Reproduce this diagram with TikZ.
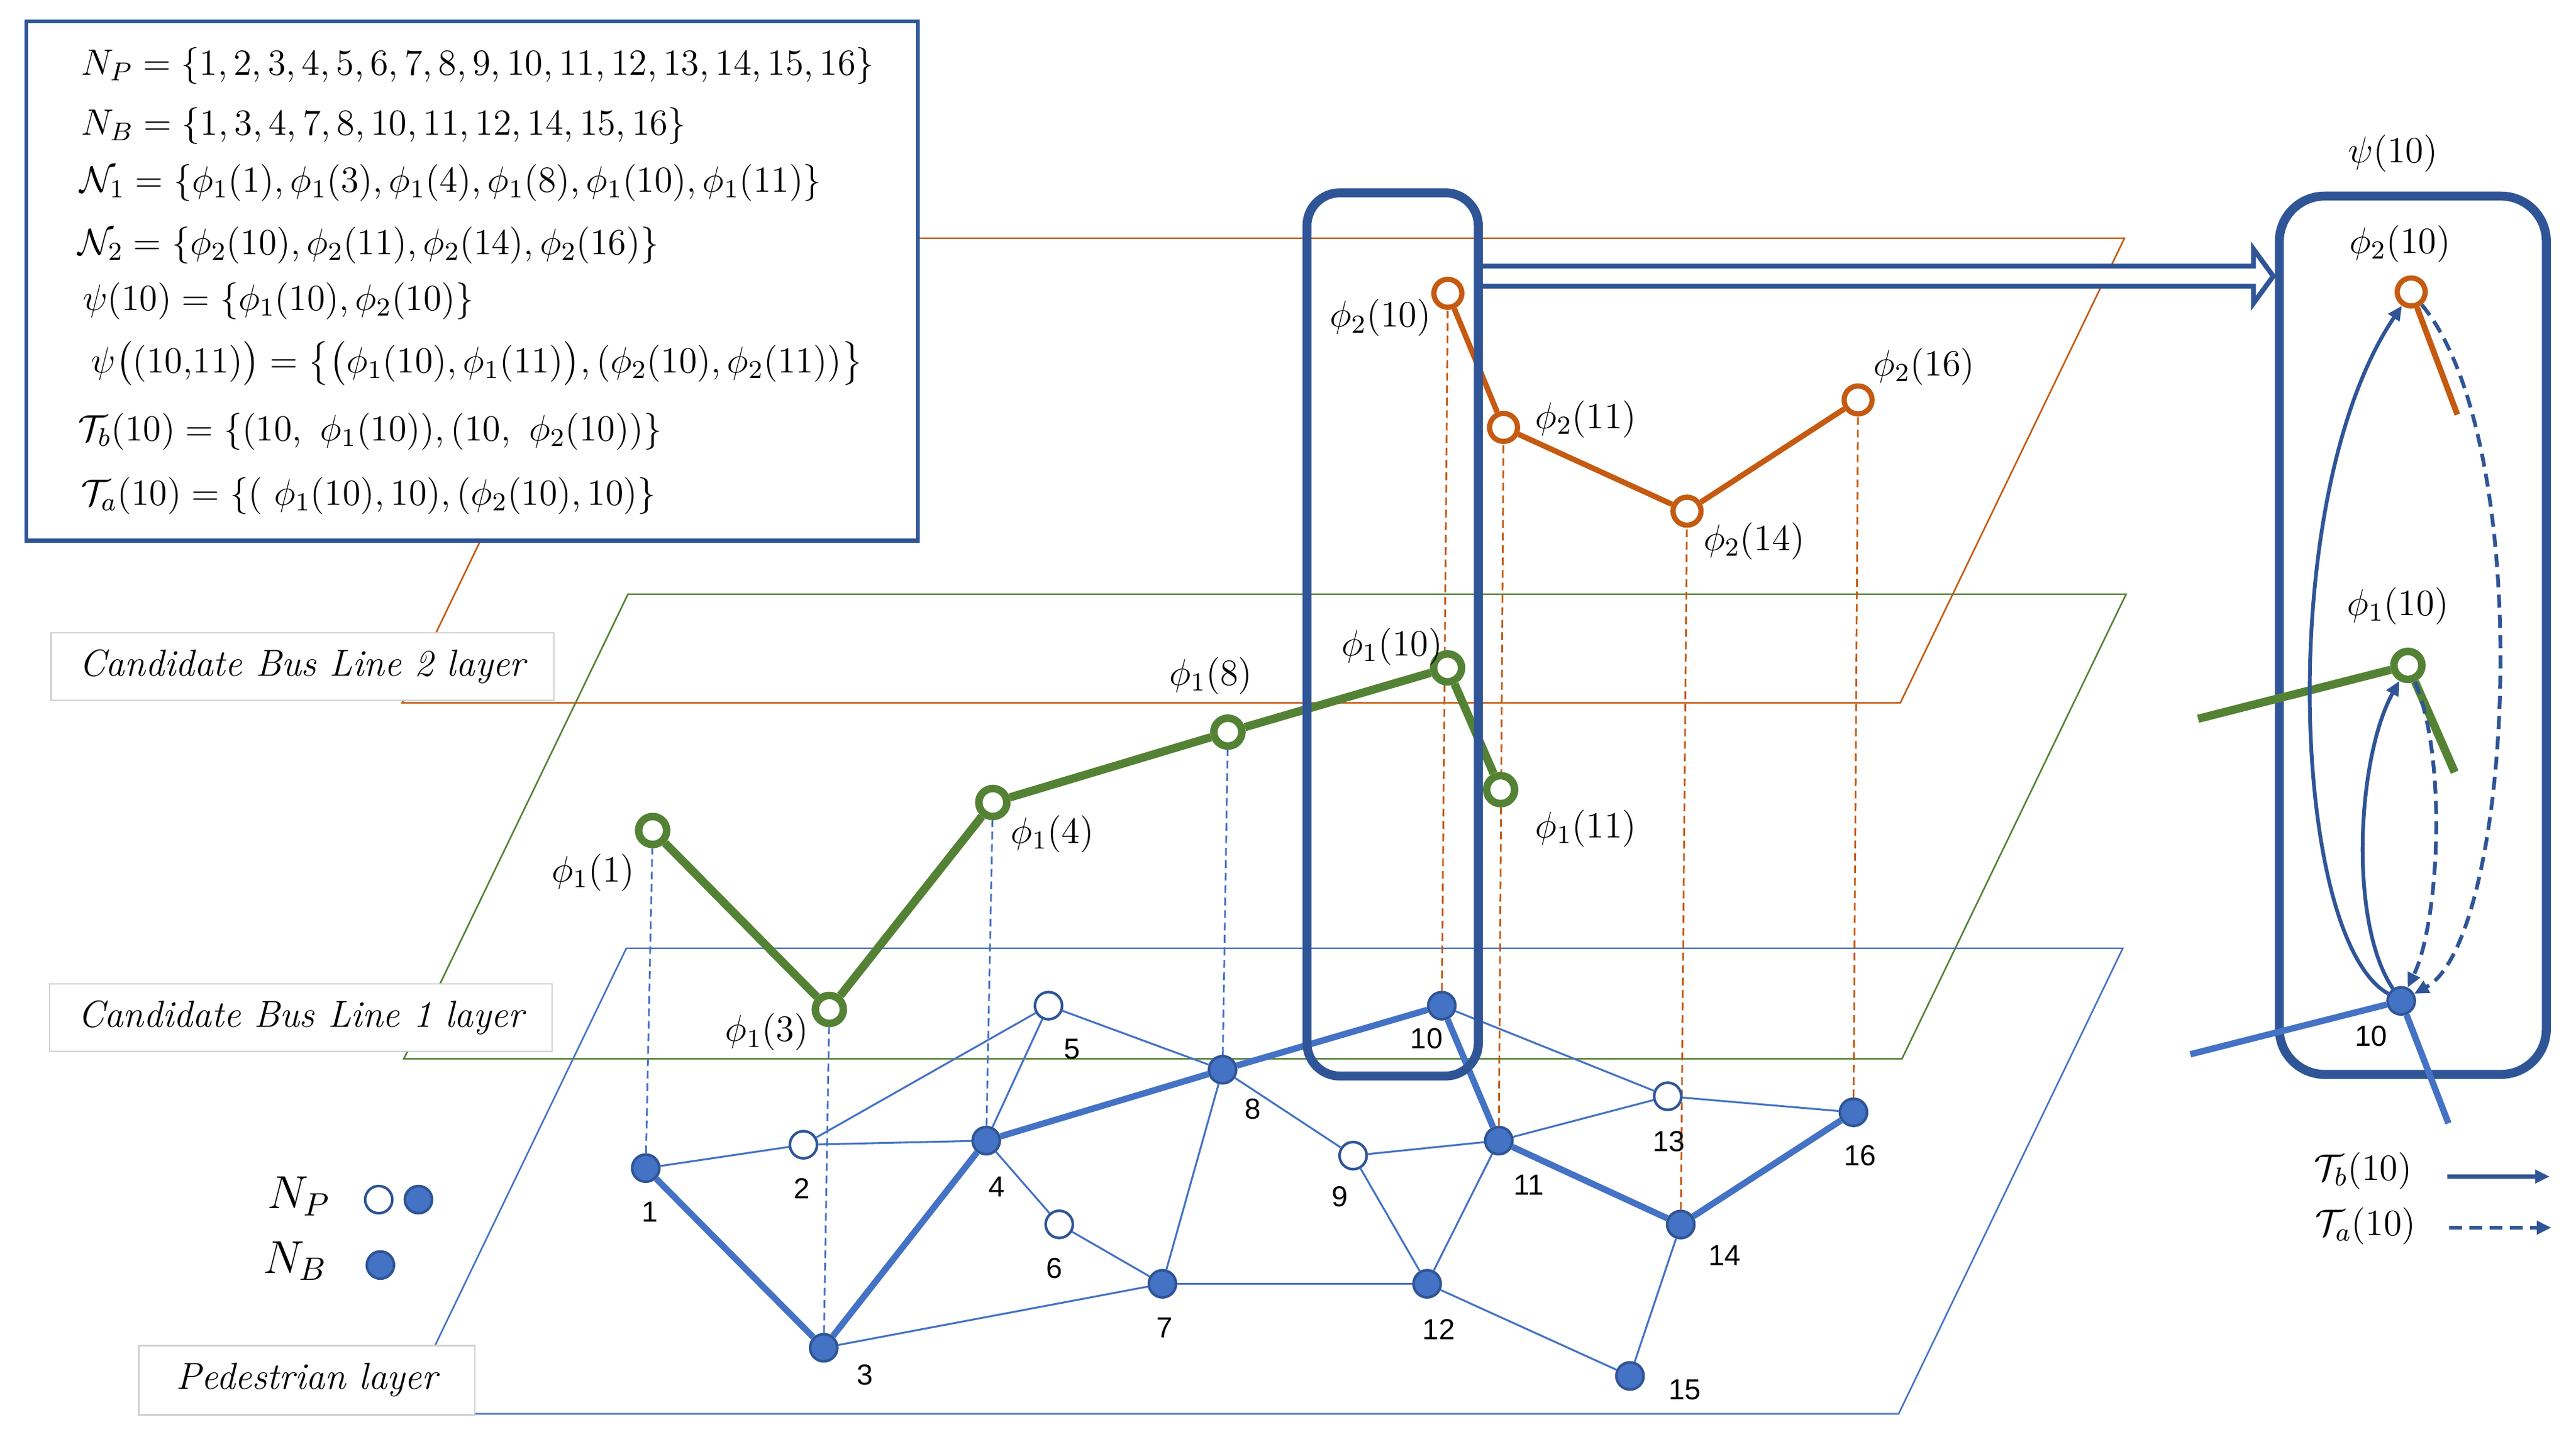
\RequirePackage{fix-cm}
\documentclass[tikz,border=0pt]{standalone}
\usepackage{amsmath, amssymb}
\usepackage{fontspec}
\newfontfamily\numfont{Liberation Sans}
\usepackage{tikz}
\usetikzlibrary{arrows.meta, positioning, calc, backgrounds}

\definecolor{pedblue}{HTML}{4472C4}
\definecolor{navy}{HTML}{2F5597}
\definecolor{busgreen}{HTML}{548235}
\definecolor{busorange}{HTML}{C55A11}
\definecolor{tagline}{HTML}{D0D0D0}

\begin{document}
\begin{tikzpicture}[x=0.2mm, y=-0.2mm,
  planeline/.style={line width=0.55pt},
  ped/.style={circle, draw=navy, line width=0.9pt, fill=white, minimum size=3.3mm, inner sep=0pt},
  bus/.style={ped, fill=pedblue},
  gstop/.style={circle, draw=busgreen, line width=2.6pt, fill=white, minimum size=3.4mm, inner sep=0pt},
  ostop/.style={circle, draw=busorange, line width=1.8pt, fill=white, minimum size=3.4mm, inner sep=0pt},
  walk/.style={pedblue, line width=0.65pt},
  route/.style={pedblue, line width=2.2pt},
  proj/.style={line width=0.6pt, dash pattern=on 2.7pt off 1.6pt},
  numlbl/.style={font=\numfont\fontsize{10}{12}\selectfont, inner sep=0pt},
  philbl/.style={font=\fontsize{12.8}{15}\selectfont, inner sep=0pt},
  deflbl/.style={font=\fontsize{12.7}{15}\selectfont, inner sep=0pt, anchor=west},
  layertag/.style={draw=tagline, line width=0.5pt, fill=white, font=\fontsize{13}{15}\selectfont\itshape, minimum height=8.2mm},
  hlframe/.style={draw=navy, line width=3.1pt},
  tb/.style={navy, line width=1.3pt, -{Triangle[length=5pt, width=4.5pt]}},
  ta/.style={tb, dash pattern=on 4.5pt off 2.5pt},
]
\useasboundingbox (0,0) rectangle (1563,876.3);

% pedestrian nodes
\node[bus] (p1) at (391.8,708.9) {};
\node[ped] (p2) at (487.5,694.7) {};
\node[bus] (p3) at (499.8,817.9) {};
\node[bus] (p4) at (598.4,692.2) {};
\node[ped] (p5) at (636.2,610.3) {};
\node[ped] (p6) at (642.7,743) {};
\node[bus] (p7) at (705.3,779.1) {};
\node[bus] (p8) at (741.8,649.2) {};
\node[ped] (p9) at (821,701.3) {};
\node[bus] (p10) at (874.8,610.3) {};
\node[bus] (p11) at (909.4,692.2) {};
\node[bus] (p12) at (865.9,779.1) {};
\node[ped] (p13) at (1011.9,665.3) {};
\node[bus] (p14) at (1019.8,743.1) {};
\node[bus] (p15) at (989,835) {};
\node[bus] (p16) at (1124.6,675) {};

\node[numlbl] (l1) at (394.4,735.5) {1};
\node[numlbl] (l2) at (486.7,721.2) {2};
\node[numlbl] (l3) at (524.8,834.4) {3};
\node[numlbl] (l4) at (604.9,720.3) {4};
\node[numlbl] (l5) at (650.5,636.5) {5};
\node[numlbl] (l6) at (639.6,769.6) {6};
\node[numlbl] (l7) at (706.6,805.6) {7};
\node[numlbl] (l8) at (760,673) {8};
\node[numlbl] (l9) at (813,726) {9};
\node[numlbl] (l10) at (865.6,630.2) {10};
\node[numlbl] (l11) at (927.7,719.3) {11};
\node[numlbl] (l12) at (873,806.6) {12};
\node[numlbl] (l13) at (1012.5,692.8) {13};
\node[numlbl] (l14) at (1046.4,762) {14};
\node[numlbl] (l15) at (1022.4,843.5) {15};
\node[numlbl] (l16) at (1128.5,701.3) {16};

% bus line 1 stops
\node[gstop] (g1) at (396,504) {};
\node[gstop] (g3) at (503.2,612.6) {};
\node[gstop] (g4) at (602.4,487) {};
\node[gstop] (g8) at (745,444.3) {};
\node[gstop] (g10) at (878.3,405.3) {};
\node[gstop] (g11) at (910.5,479.2) {};

\node[philbl] (lg1) at (359.9,529.4) {$\phi_1(1)$};
\node[philbl] (lg3) at (465.3,626.4) {$\phi_1(3)$};
\node[philbl] (lg4) at (638.6,506.2) {$\phi_1(4)$};
\node[philbl] (lg8) at (734.7,410.1) {$\phi_1(8)$};
\node[philbl] (lg10) at (844.6,392.3) {$\phi_1(10)$};
\node[philbl] (lg11) at (962.3,502.7) {$\phi_1(11)$};

% bus line 2 stops
\node[ostop] (o10) at (878.5,178) {};
\node[ostop] (o11) at (912.3,259.4) {};
\node[ostop] (o14) at (1023.6,310.2) {};
\node[ostop] (o16) at (1127.4,242.7) {};

\node[philbl] (lo10) at (837.6,192.9) {$\phi_2(10)$};
\node[philbl] (lo11) at (962.3,254.4) {$\phi_2(11)$};
\node[philbl] (lo14) at (1064.3,328.5) {$\phi_2(14)$};
\node[philbl] (lo16) at (1167.5,222.3) {$\phi_2(16)$};

\begin{scope}[on background layer]
  % layers
  \draw[busorange, planeline] (380,144.6) -- (1289,144.6) -- (1153,426.6) -- (244,426.6) -- cycle;
  \draw[busgreen, planeline] (381,360.6) -- (1290,360.6) -- (1154,642.6) -- (245,642.6) -- cycle;
  \draw[pedblue, planeline] (380,575.5) -- (1288,575.5) -- (1152,858) -- (244,858) -- cycle;
  % projections
  \draw[pedblue, proj] (p1) -- (g1);
  \draw[pedblue, proj] (p3) -- (g3);
  \draw[pedblue, proj] (p4) -- (g4);
  \draw[pedblue, proj] (p8) -- (g8);
  \draw[busorange, proj] (p10) -- (o10);
  \draw[busorange, proj] (p11) -- (o11);
  \draw[busorange, proj] (p14) -- (o14);
  \draw[busorange, proj] (p16) -- (o16);
\end{scope}

% pedestrian links
\draw[walk] (p1) -- (p2);
\draw[walk] (p2) -- (p4);
\draw[walk] (p2) -- (p5);
\draw[walk] (p4) -- (p5);
\draw[walk] (p5) -- (p8);
\draw[walk] (p4) -- (p6);
\draw[walk] (p6) -- (p7);
\draw[walk] (p7) -- (p8);
\draw[walk] (p3) -- (p7);
\draw[walk] (p7) -- (p12);
\draw[walk] (p8) -- (p9);
\draw[walk] (p9) -- (p11);
\draw[walk] (p9) -- (p12);
\draw[walk] (p10) -- (p13);
\draw[walk] (p11) -- (p13);
\draw[walk] (p11) -- (p12);
\draw[walk] (p12) -- (p15);
\draw[walk] (p13) -- (p16);
\draw[walk] (p14) -- (p15);
\draw[route] (p1) -- (p3) -- (p4) -- (p8) -- (p10) -- (p11) -- (p14) -- (p16);

\draw[busgreen, line width=2.85pt] (g1) -- (g3) -- (g4) -- (g8) -- (g10) -- (g11);
\draw[busorange, line width=1.9pt] (o10) -- (o11) -- (o14) -- (o16);

% definitions
\node[draw=navy, line width=1.4pt, fill=white, minimum width=108.2mm, minimum height=63mm] (defs) at (286.5,170.5) {};
\node[deflbl] (d1) at (49,40) {$N_P = \{1, 2, 3, 4, 5, 6, 7, 8, 9, 10, 11, 12, 13, 14, 15, 16\}$};
\node[deflbl] (d2) at (49,76.3) {$N_B = \{1, 3, 4, 7, 8, 10, 11, 12, 14, 15, 16\}$};
\node[deflbl] (d3) at (48,111) {$\mathcal{N}_1 = \{\phi_1(1), \phi_1(3), \phi_1(4), \phi_1(8), \phi_1(10), \phi_1(11)\}$};
\node[deflbl] (d4) at (47,149) {$\mathcal{N}_2 = \{\phi_2(10), \phi_2(11), \phi_2(14), \phi_2(16)\}$};
\node[deflbl] (d5) at (50,182.8) {$\psi(10) = \{\phi_1(10), \phi_2(10)\}$};
\node[deflbl] (d6) at (55,220.5) {$\psi\big((10{,}11)\big) = \big\{\big(\phi_1(10), \phi_1(11)\big), (\phi_2(10), \phi_2(11))\big\}$};
\node[deflbl] (d7) at (47,261.8) {$\mathcal{T}_b(10) = \{(10,\ \phi_1(10)), (10,\ \phi_2(10))\}$};
\node[deflbl] (d8) at (49,300.9) {$\mathcal{T}_a(10) = \{(\ \phi_1(10), 10), (\phi_2(10), 10)\}$};

% layer names
\node[layertag, minimum width=61mm] (t2) at (183.5,404.5) {Candidate Bus Line 2 layer};
\node[layertag, minimum width=61mm] (t1) at (182.5,617.5) {Candidate Bus Line 1 layer};
\node[layertag, minimum width=40.8mm, minimum height=8.4mm] (tp) at (186.2,837.6) {Pedestrian layer};

% legend
\node[font=\fontsize{16}{19}\selectfont, inner sep=0pt] (lnp) at (181.5,726) {$N_P$};
\node[font=\fontsize{16}{19}\selectfont, inner sep=0pt] (lnb) at (179.1,765.2) {$N_B$};
\node[ped] (lp1) at (229.8,728) {};
\node[bus] (lp2) at (253.9,728) {};
\node[bus] (lb1) at (230.8,767.7) {};

% highlighted stop group
\node[hlframe, rounded corners=4mm, minimum width=20.8mm, minimum height=107.2mm] (hl) at (845,385) {};
\node[hlframe, rounded corners=5.5mm, minimum width=32.4mm, minimum height=106.6mm] (psi) at (1464,385.5) {};
\coordinate (da) at (hl.east |- 0,167.6);
\coordinate (db) at ($(psi.west |- 0,167.6)+(-1,0)$);
\filldraw[navy, fill=white, line width=1.7pt] ($(da)+(0,-6.1)$) -- ($(db)+(-12,-6.1)$) -- ($(db)+(-12,-16.5)$) -- (db) -- ($(db)+(-12,16.5)$) -- ($(db)+(-12,6.1)$) -- ($(da)+(0,6.1)$);

% zoomed view of psi(10)
\node[philbl] (lpsi) at (1452,93) {$\psi(10)$};
\coordinate (r2leg) at (1491,251.6);
\coordinate (r1in) at (1333.7,436.2);
\coordinate (r1leg) at (1489.4,468.6);
\coordinate (r10in) at (1329,639.8);
\coordinate (r10leg) at (1485.6,681.7);
\node[ostop] (r2) at (1463,177.2) {};
\node[gstop] (r1) at (1461,403.8) {};
\node[bus] (r10) at (1456.9,607.4) {};
\draw[busorange, line width=2pt] (r2) -- (r2leg);
\draw[busgreen, line width=2.85pt] (r1in) -- (r1) -- (r1leg);
\draw[route] (r10in) -- (r10) -- (r10leg);
\node[philbl] (lr2) at (1456.3,148) {$\phi_2(10)$};
\node[philbl] (lr1) at (1455,367.8) {$\phi_1(10)$};
\node[numlbl] (lr10) at (1438.7,628.8) {10};

\draw[tb] (r10) .. controls (1390,570) and (1380,300) .. (r2);
\draw[tb] (r10) .. controls (1425,560) and (1430,460) .. (r1);
\draw[ta] (r2) .. controls (1540,270) and (1525,570) .. (r10);
\draw[ta] (r1) .. controls (1485,460) and (1480,560) .. (r10);

% arrow legend
\node[philbl] (ltb) at (1433.9,710.5) {$\mathcal{T}_b(10)$};
\node[philbl] (lta) at (1435.4,744) {$\mathcal{T}_a(10)$};
\coordinate (tbA) at (1485,714);
\coordinate (tbB) at (1547,714);
\coordinate (taA) at (1486,745);
\coordinate (taB) at (1548,745);
\draw[tb] (tbA) -- (tbB);
\draw[ta] (taA) -- (taB);
\end{tikzpicture}
\end{document}
